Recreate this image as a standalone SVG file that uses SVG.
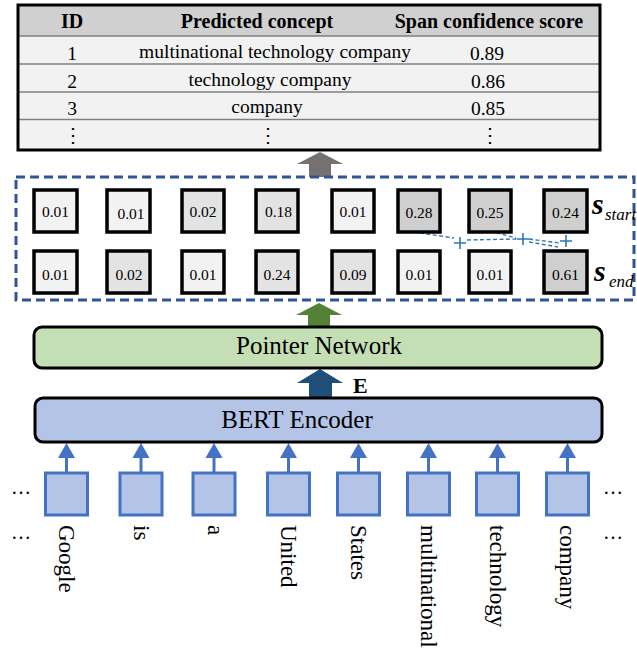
<svg xmlns="http://www.w3.org/2000/svg" width="637" height="652" viewBox="0 0 637 652">
<style>
text{font-family:"Liberation Serif","Times New Roman",serif;fill:#000}
.th{font-weight:bold;font-size:20px;text-anchor:middle}
.td{font-size:19.5px;text-anchor:middle}
.sep{stroke:#7f7f7f;stroke-width:1.5}
.sb{stroke:#000;stroke-width:3.5}
.lt{fill:#f2f2f2}.md{fill:#e3e3e3}.dk{fill:#cfcfcf}
.sv{font-size:15.5px;text-anchor:middle}
.blk{fill:none;stroke:#000;stroke-width:3}
.tok{fill:#b4c4e7;stroke:#4472c4;stroke-width:3}
.in{stroke:#4472c4;stroke-width:3;fill:none}
.ih{fill:#4472c4}
.tl{font-size:23px}
.ptr{stroke:#2e75b6;stroke-width:1.4;fill:none;stroke-dasharray:4 2.5}
.plus{stroke:#2e75b6;stroke-width:1.6;fill:none}
.big{font-size:25px;text-anchor:middle}
</style>

<g id="table">
  <rect x="18" y="5" width="582" height="31" fill="#d0d0d0"/>
  <rect x="18" y="36" width="582" height="114" fill="#f2f2f2"/>
  <line class="sep" x1="18" y1="36" x2="600" y2="36"/>
  <line class="sep" x1="18" y1="64" x2="600" y2="64"/>
  <line class="sep" x1="18" y1="92" x2="600" y2="92"/>
  <line class="sep" x1="18" y1="119.5" x2="600" y2="119.5"/>
  <rect x="18" y="5" width="582" height="145" fill="none" stroke="#000" stroke-width="3"/>
  <text class="th" x="72" y="28">ID</text>
  <text class="th" x="257" y="28">Predicted concept</text>
  <text class="th" x="489" y="28">Span confidence score</text>
  <text class="td" x="72" y="60">1</text>
  <text class="td" x="275" y="58">multinational technology company</text>
  <text class="td" x="487" y="60">0.89</text>
  <text class="td" x="72" y="88">2</text>
  <text class="td" x="270" y="86">technology company</text>
  <text class="td" x="488" y="88">0.86</text>
  <text class="td" x="72" y="115">3</text>
  <text class="td" x="267" y="113">company</text>
  <text class="td" x="488" y="115">0.85</text>
  <text class="td" x="73" y="142">⋮</text>
  <text class="td" x="268" y="142">⋮</text>
  <text class="td" x="490" y="142">⋮</text>
</g>

<g id="connectors">
  <polygon points="309,177 309,164 297,164 320,152 343,164 331,164 331,177" fill="#767171"/>
  <polygon points="308,326 308,315 296,315 319,303 342,315 330,315 330,326" fill="#548235"/>
  <polygon points="309,398 309,383 297,383 320,369 343,383 332,383 332,398" fill="#1f4e79"/>
  <g id="input-arrows">
    <line class="in" x1="66.5" y1="473" x2="66.5" y2="457"/><polygon class="ih" points="58,458 75,458 66.5,443"/>
    <line class="in" x1="141" y1="473" x2="141" y2="457"/><polygon class="ih" points="132.5,458 149.5,458 141,443"/>
    <line class="in" x1="214" y1="473" x2="214" y2="457"/><polygon class="ih" points="205.5,458 222.5,458 214,443"/>
    <line class="in" x1="288.5" y1="473" x2="288.5" y2="457"/><polygon class="ih" points="280,458 297,458 288.5,443"/>
    <line class="in" x1="358.5" y1="473" x2="358.5" y2="457"/><polygon class="ih" points="350,458 367,458 358.5,443"/>
    <line class="in" x1="428.5" y1="473" x2="428.5" y2="457"/><polygon class="ih" points="420,458 437,458 428.5,443"/>
    <line class="in" x1="497.5" y1="473" x2="497.5" y2="457"/><polygon class="ih" points="489,458 506,458 497.5,443"/>
    <line class="in" x1="567.5" y1="473" x2="567.5" y2="457"/><polygon class="ih" points="559,458 576,458 567.5,443"/>
  </g>
  <g id="span-links">
    <polyline class="ptr" points="407,231 454,238"/>
    <polyline class="ptr" points="467,240 519,239"/>
    <polyline class="ptr" points="490,231 516,238"/>
    <polyline class="ptr" points="529,239 560,243"/>
    <polyline class="ptr" points="529,242 558,247"/>
    <path class="plus" d="M454,243h12M460,237v12"/>
    <path class="plus" d="M517,239h12M523,233v12"/>
    <path class="plus" d="M560,241h12M566,235v12"/>
  </g>
</g>

<g id="span-box">
  <rect x="16" y="177" width="618" height="123" fill="none" stroke="#2f5597" stroke-width="3" stroke-dasharray="9 5"/>
</g>

<g id="start-scores">
  <g id="s1"><rect class="sb lt" x="34" y="190" width="43" height="42"/><text class="sv" x="55.5" y="217">0.01</text></g>
  <g id="s2"><rect class="sb lt" x="107" y="190" width="43" height="42"/><text class="sv" x="131" y="219">0.01</text></g>
  <g id="s3"><rect class="sb md" x="182" y="190" width="42" height="42"/><text class="sv" x="203" y="217">0.02</text></g>
  <g id="s4"><rect class="sb md" x="256" y="190" width="42" height="42"/><text class="sv" x="278.5" y="217">0.18</text></g>
  <g id="s5"><rect class="sb lt" x="332" y="190" width="42" height="42"/><text class="sv" x="353" y="217">0.01</text></g>
  <g id="s6"><rect class="sb dk" x="398" y="190" width="42" height="42"/><text class="sv" x="419" y="218">0.28</text></g>
  <g id="s7"><rect class="sb dk" x="469" y="190" width="42" height="42"/><text class="sv" x="490" y="218">0.25</text></g>
  <g id="s8"><rect class="sb dk" x="544" y="190" width="43" height="42"/><text class="sv" x="565.5" y="218">0.24</text></g>
  <text x="592" y="214" font-size="30" font-weight="bold" font-style="italic">s</text>
  <text x="605" y="220" font-size="17" font-style="italic">start</text>
</g>

<g id="end-scores">
  <g id="e1"><rect class="sb lt" x="34" y="251" width="43" height="42"/><text class="sv" x="55.5" y="280">0.01</text></g>
  <g id="e2"><rect class="sb md" x="107" y="251" width="43" height="42"/><text class="sv" x="129" y="280">0.02</text></g>
  <g id="e3"><rect class="sb lt" x="182" y="251" width="42" height="42"/><text class="sv" x="203" y="280">0.01</text></g>
  <g id="e4"><rect class="sb md" x="256" y="251" width="42" height="42"/><text class="sv" x="277" y="280">0.24</text></g>
  <g id="e5"><rect class="sb md" x="332" y="251" width="42" height="42"/><text class="sv" x="353" y="280">0.09</text></g>
  <g id="e6"><rect class="sb lt" x="398" y="251" width="42" height="42"/><text class="sv" x="419" y="280">0.01</text></g>
  <g id="e7"><rect class="sb lt" x="469" y="251" width="42" height="42"/><text class="sv" x="490" y="280">0.01</text></g>
  <g id="e8"><rect class="sb dk" x="544" y="251" width="43" height="42"/><text class="sv" x="565.5" y="280">0.61</text></g>
  <text x="594" y="281" font-size="30" font-weight="bold" font-style="italic">s</text>
  <text x="609" y="287" font-size="17" font-style="italic">end</text>
</g>

<g id="pointer-network">
  <rect x="34" y="327" width="568" height="41" rx="8" fill="#c5dfb4" stroke="#000" stroke-width="3"/>
  <text class="big" x="319" y="354">Pointer Network</text>
</g>
<text x="353" y="393" font-size="22" font-weight="bold">E</text>
<g id="bert-encoder">
  <rect x="35" y="398" width="567" height="44" rx="8" fill="#b4c4e7" stroke="#000" stroke-width="3"/>
  <text class="big" x="297" y="428">BERT Encoder</text>
</g>

<g id="tokens">
  <g id="t1"><rect class="tok" x="45.5" y="473" width="42" height="42"/><text class="tl" transform="translate(59,525) rotate(90)">Google</text></g>
  <g id="t2"><rect class="tok" x="120" y="473" width="42" height="42"/><text class="tl" transform="translate(134,525) rotate(90)">is</text></g>
  <g id="t3"><rect class="tok" x="193" y="473" width="42" height="42"/><text class="tl" transform="translate(207.5,525) rotate(90)">a</text></g>
  <g id="t4"><rect class="tok" x="267.5" y="473" width="42" height="42"/><text class="tl" transform="translate(281,525) rotate(90)">United</text></g>
  <g id="t5"><rect class="tok" x="337.5" y="473" width="42" height="42"/><text class="tl" transform="translate(351,525) rotate(90)">States</text></g>
  <g id="t6"><rect class="tok" x="407.5" y="473" width="42" height="42"/><text class="tl" transform="translate(421,525) rotate(90)">multinational</text></g>
  <g id="t7"><rect class="tok" x="476.5" y="473" width="42" height="42"/><text class="tl" transform="translate(490,525) rotate(90)">technology</text></g>
  <g id="t8"><rect class="tok" x="546.5" y="473" width="42" height="42"/><text class="tl" transform="translate(560,525) rotate(90)">company</text></g>
  <text x="11" y="494" font-size="20">…</text>
  <text x="11" y="539" font-size="20">…</text>
  <text x="603" y="494" font-size="20">…</text>
  <text x="603" y="539" font-size="20">…</text>
</g>
</svg>
